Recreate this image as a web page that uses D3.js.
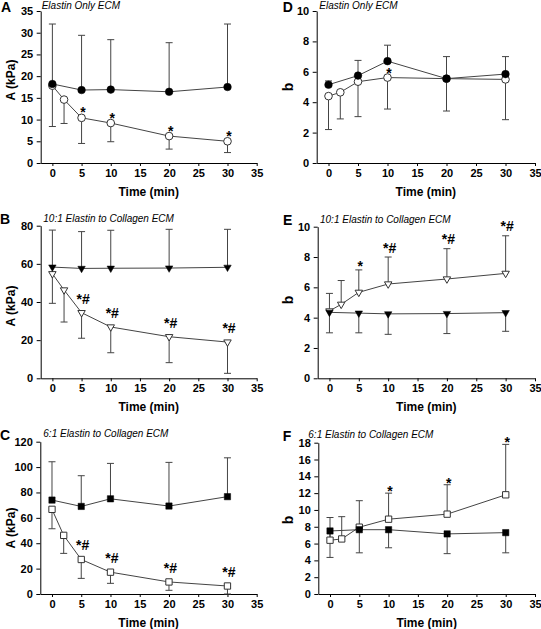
<!DOCTYPE html>
<html>
<head>
<meta charset="utf-8">
<script src="https://cdn.jsdelivr.net/npm/d3@7/dist/d3.min.js"></script>
<style>
  html, body { margin: 0; padding: 0; background: #fff; }
  svg { display: block; }
  text { font-family: "Liberation Sans", Arial, sans-serif; }
</style>
</head>
<body>
<svg id="chart" width="541" height="629"></svg>
<script>
// ---------------- DATA ----------------
const timeFilled = [0, 5, 10, 20, 30];
const timeOpen = [0, 2, 5, 10, 20, 30];
const xTicks = [0, 5, 10, 15, 20, 25, 30, 35];

// Panel A: A (kPa), Elastin only
const aElastinFilled = [18.2, 16.8, 16.9, 16.4, 17.5];
const aElastinFilledErr = [32.0, 29.4, 28.4, 27.7, 32.0];     // upper bar end
const aElastinOpen = [17.8, 14.6, 10.4, 9.2, 6.2, 5.0];
const aElastinOpenErr = [8.4, 9.1, 4.5, 4.9, 3.2, 2.4];       // lower bar end
const aElastinMarks = [[5, "*"], [10, "*"], [20, "*"], [30, "*"]];

// Panel B: A (kPa), 10:1
const a10Filled = [58.3, 57.6, 57.7, 57.8, 58.2];
const a10FilledErr = [77.7, 76.9, 77.6, 78.1, 78.1];
const a10Open = [54.8, 46.3, 34.4, 26.9, 21.8, 19.0];
const a10OpenErr = [39.3, 29.5, 21.0, 13.4, 8.2, 2.6];
const a10Marks = [[5, "*#"], [10, "*#"], [20, "*#"], [30, "*#"]];

// Panel C: A (kPa), 6:1
const a6Filled = [74.0, 69.0, 75.0, 69.3, 76.7];
const a6FilledErr = [104.2, 93.2, 102.9, 103.7, 107.3];
const a6Open = [66.7, 46.2, 27.2, 17.2, 9.5, 6.3];
const a6OpenErr = [51.4, 32.0, 12.3, 8.4, 2.9, 0];
const a6Marks = [[5, "*#"], [10, "*#"], [20, "*#"], [30, "*#"]];

// Panel D: b, Elastin only
const bElastinFilled = [5.15, 5.75, 6.7, 5.55, 5.85];
const bElastinFilledErr = [5.4, 6.75, 7.75, 7.0, 7.0];
const bElastinOpen = [4.4, 4.65, 5.35, 5.62, 5.55, 5.5];
const bElastinOpenErr = [2.2, 2.9, 3.05, 3.55, 3.42, 2.85];
const bElastinMarks = [[10, "*"]];

// Panel E: b, 10:1
const b10Filled = [4.35, 4.3, 4.25, 4.27, 4.33];
const b10FilledErr = [3.0, 3.0, 2.9, 2.95, 3.1];
const b10Open = [4.44, 4.88, 5.67, 6.22, 6.55, 6.92];
const b10OpenErr = [5.6, 6.45, 7.15, 8.0, 8.55, 9.4];
const b10Marks = [[5, "*"], [10, "*#"], [20, "*#"], [30, "*#"]];

// Panel F: b, 6:1
const b6Filled = [7.5, 7.65, 7.65, 7.15, 7.3];
const b6FilledErr = [4.35, 4.9, 5.5, 4.8, 4.9];
const b6Open = [6.4, 6.55, 7.95, 8.9, 9.5, 11.8];
const b6OpenErr = [9.1, 9.2, 11.1, 12.0, 13.0, 17.8];
const b6Marks = [[10, "*"], [20, "*"], [30, "*"]];

// ---------------- PANELS ----------------
const panels = [
  { letter: "A", title: "Elastin Only ECM", yLabel: "A (kPa)", yMax: 35, yStep: 5,
    x0: 40.7, x1: 256.7, yTop: 11, yBot: 163, letterPos: [1, 11.7], titlePos: [41.7, 9],
    yLabelPos: [15, 80], symbol: d3.symbolCircle, size: 46, rot: 0,
    filled: aElastinFilled, filledErr: aElastinFilledErr, open: aElastinOpen, openErr: aElastinOpenErr,
    marks: aElastinMarks, markOn: "open", markOff: { "*": -0.5, "*#": -9 } },
  { letter: "B", title: "10:1 Elastin to Collagen ECM", yLabel: "A (kPa)", yMax: 80, yStep: 20,
    x0: 40.7, x1: 256.7, yTop: 225.7, yBot: 378.3, letterPos: [0, 224.3], titlePos: [43.3, 222.3],
    yLabelPos: [15, 306], symbol: d3.symbolTriangle, size: 24, rot: 180,
    filled: a10Filled, filledErr: a10FilledErr, open: a10Open, openErr: a10OpenErr,
    marks: a10Marks, markOn: "open", markOff: { "*": -1.5, "*#": -9 } },
  { letter: "C", title: "6:1 Elastin to Collagen ECM", yLabel: "A (kPa)", yMax: 120, yStep: 20,
    x0: 40.3, x1: 256.7, yTop: 441.7, yBot: 594, letterPos: [0, 440], titlePos: [43.3, 437.3],
    yLabelPos: [15, 528], symbol: d3.symbolSquare, size: 40, rot: 0,
    filled: a6Filled, filledErr: a6FilledErr, open: a6Open, openErr: a6OpenErr,
    marks: a6Marks, markOn: "open", markOff: { "*": -1.5, "*#": -9 } },
  { letter: "D", title: "Elastin Only ECM", yLabel: "b", yMax: 10, yStep: 2,
    x0: 316.7, x1: 535, yTop: 11, yBot: 163, letterPos: [282.7, 11.7], titlePos: [319.3, 9],
    yLabelPos: [293, 87], symbol: d3.symbolCircle, size: 46, rot: 0,
    filled: bElastinFilled, filledErr: bElastinFilledErr, open: bElastinOpen, openErr: bElastinOpenErr,
    marks: bElastinMarks, markOn: "open", markOff: { "*": 0, "*#": -9 } },
  { letter: "E", title: "10:1 Elastin to Collagen ECM", yLabel: "b", yMax: 10, yStep: 2,
    x0: 317.7, x1: 535, yTop: 226.7, yBot: 378.3, letterPos: [283, 225], titlePos: [320, 223],
    yLabelPos: [293, 300], symbol: d3.symbolTriangle, size: 24, rot: 180,
    filled: b10Filled, filledErr: b10FilledErr, open: b10Open, openErr: b10OpenErr,
    marks: b10Marks, markOn: "openErr", markOff: { "*": 1, "*#": -4.5 } },
  { letter: "F", title: "6:1 Elastin to Collagen ECM", yLabel: "b", yMax: 18, yStep: 2,
    x0: 318.3, x1: 535, yTop: 442.7, yBot: 594, letterPos: [282.7, 441], titlePos: [308.3, 437.5],
    yLabelPos: [293, 520], symbol: d3.symbolSquare, size: 40, rot: 0,
    filled: b6Filled, filledErr: b6FilledErr, open: b6Open, openErr: b6OpenErr,
    marks: b6Marks, markOn: "openErr", markOff: { "*": 3, "*#": -2 } }
];

const svg = d3.select("#chart");
const lineColor = "#444";

panels.forEach(p => {
  const g = svg.append("g");
  const x = d3.scaleLinear().domain([-2, 35]).range([p.x0, p.x1]);
  const y = d3.scaleLinear().domain([0, p.yMax]).range([p.yBot, p.yTop]);

  // axes
  const yAxis = d3.axisLeft(y)
    .tickValues(d3.range(0, p.yMax + p.yStep / 2, p.yStep))
    .tickSize(4).tickSizeOuter(0).tickPadding(3.5);
  const gy = g.append("g").attr("transform", `translate(${p.x0},0)`).call(yAxis);

  const xAxis = d3.axisBottom(x).tickValues(xTicks)
    .tickSize(3).tickSizeOuter(0).tickPadding(3);
  const gx = g.append("g").attr("transform", `translate(0,${p.yBot})`).call(xAxis);

  [gx, gy].forEach(a => {
    a.selectAll("text").attr("font-size", 11).attr("font-weight", "bold")
      .attr("fill", "#000").attr("font-family", '"Liberation Sans", Arial, sans-serif');
    a.selectAll("path, line").attr("stroke", "#000").attr("stroke-width", 1);
  });

  // labels
  g.append("text").attr("x", p.letterPos[0]).attr("y", p.letterPos[1])
    .attr("font-size", 14).attr("font-weight", "bold").text(p.letter);
  g.append("text").attr("x", p.titlePos[0]).attr("y", p.titlePos[1])
    .attr("font-size", 10).attr("font-style", "italic").text(p.title);
  g.append("text")
    .attr("transform", `translate(${p.yLabelPos[0]},${p.yLabelPos[1]}) rotate(-90)`)
    .attr("text-anchor", "middle").attr("font-size", p.yLabel === "b" ? 14 : 12)
    .attr("font-weight", "bold").text(p.yLabel);
  g.append("text").attr("x", (p.x0 + p.x1) / 2).attr("y", p.yBot + 32.5)
    .attr("text-anchor", "middle").attr("font-size", 12).attr("font-weight", "bold")
    .text("Time (min)");

  const openPts = timeOpen.map((t, i) => ({ t, v: p.open[i], e: p.openErr[i] }));
  const filledPts = timeFilled.map((t, i) => ({ t, v: p.filled[i], e: p.filledErr[i] }));

  const line = d3.line().x(d => x(d.t)).y(d => y(d.v));

  // connecting lines
  [openPts, filledPts].forEach(pts => {
    g.append("path").datum(pts).attr("d", line)
      .attr("fill", "none").attr("stroke", lineColor).attr("stroke-width", 1);
  });

  // error bars
  [openPts, filledPts].forEach(pts => {
    const eb = g.append("g").attr("stroke", lineColor).attr("stroke-width", 1);
    eb.selectAll(".v").data(pts).join("line")
      .attr("x1", d => x(d.t)).attr("x2", d => x(d.t))
      .attr("y1", d => y(d.v)).attr("y2", d => y(d.e));
    eb.selectAll(".c").data(pts).join("line").attr("class", "c")
      .attr("x1", d => x(d.t) - 3.5).attr("x2", d => x(d.t) + 3.5)
      .attr("y1", d => y(d.e)).attr("y2", d => y(d.e));
  });

  const sym = d3.symbol().type(p.symbol).size(p.size);

  // open markers
  g.append("g").selectAll("path").data(openPts).join("path")
    .attr("d", sym)
    .attr("transform", d => `translate(${x(d.t)},${y(d.v)}) rotate(${p.rot})`)
    .attr("fill", "#fff").attr("stroke", "#333").attr("stroke-width", 1);

  // filled markers
  g.append("g").selectAll("path").data(filledPts).join("path")
    .attr("d", sym)
    .attr("transform", d => `translate(${x(d.t)},${y(d.v)}) rotate(${p.rot})`)
    .attr("fill", "#000").attr("stroke", "#000").attr("stroke-width", 0.5);

  // significance marks
  g.append("g").selectAll("text").data(p.marks).join("text")
    .attr("x", d => x(d[0]) + 1.5)
    .attr("y", d => {
      const i = timeOpen.indexOf(d[0]);
      const base = p.markOn === "open" ? p.open[i] : p.openErr[i];
      return y(base) + p.markOff[d[1]];
    })
    .attr("text-anchor", "middle").attr("font-size", 14).attr("font-weight", "bold")
    .text(d => d[1]);
});
</script>
</body>
</html>
